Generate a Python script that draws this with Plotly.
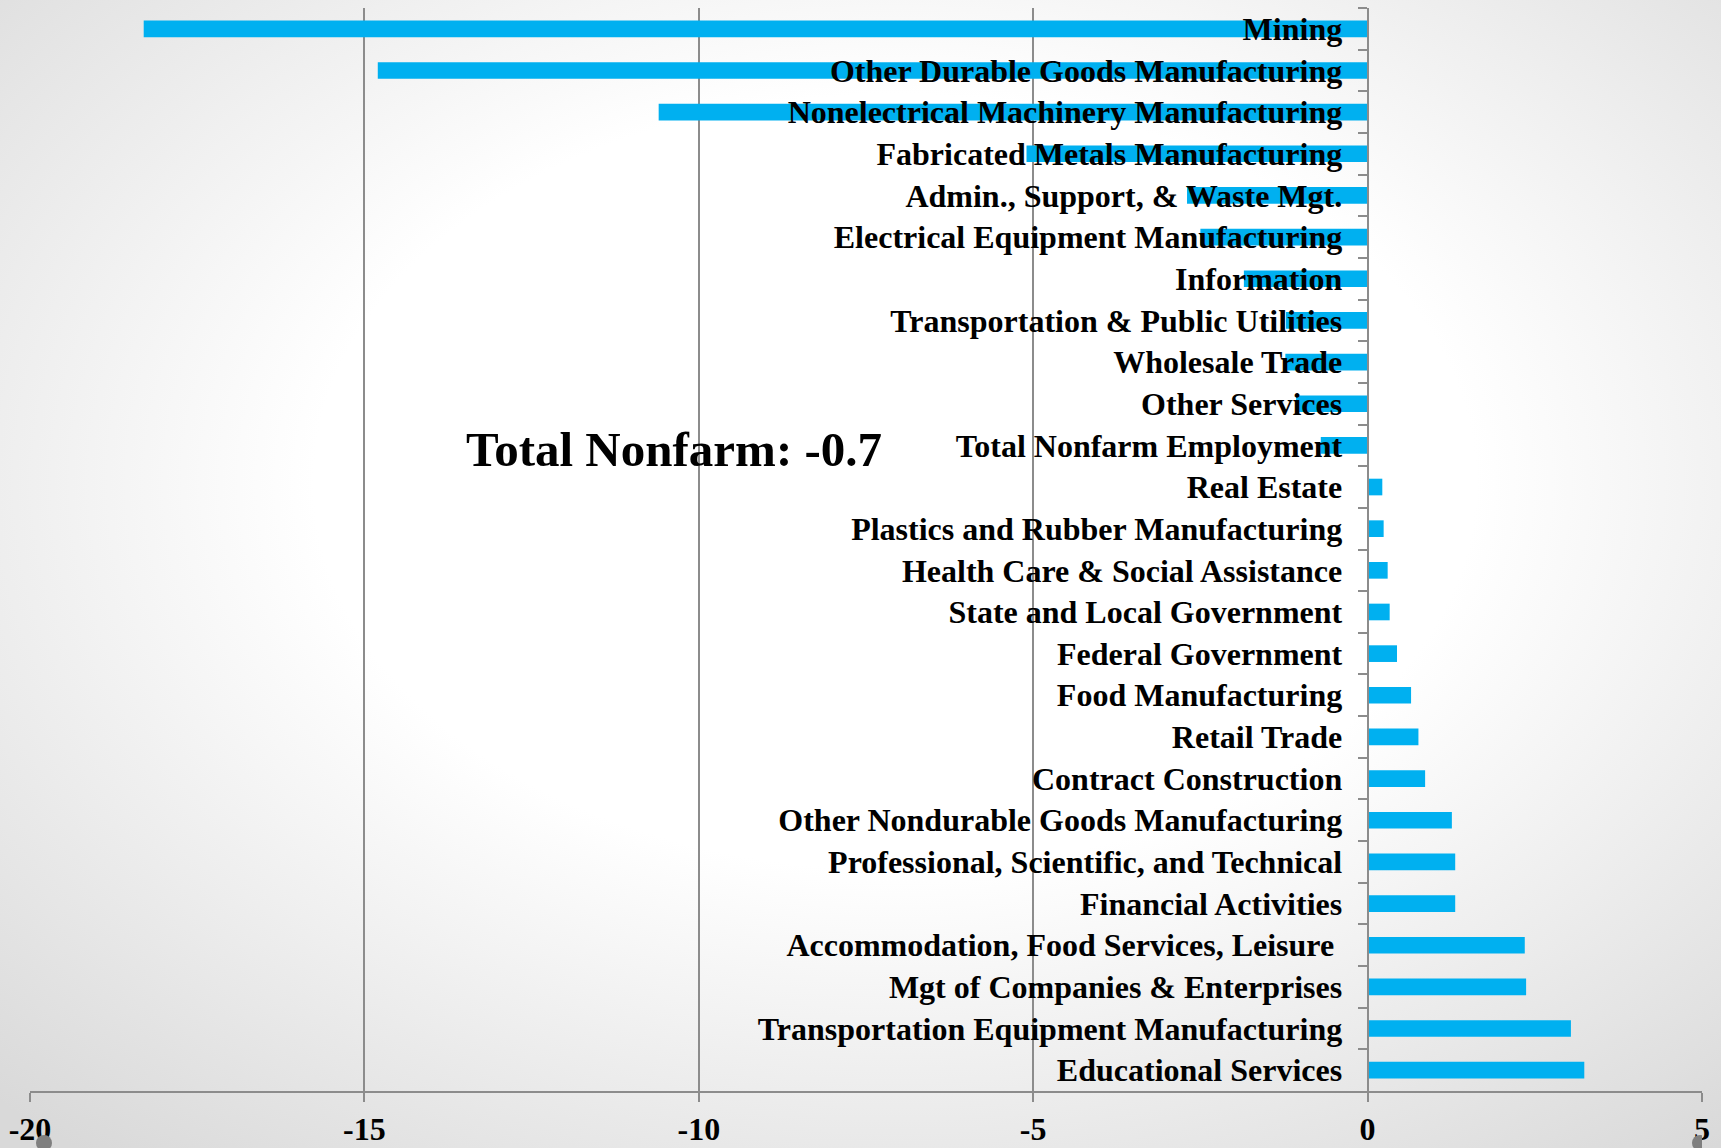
import base64
import plotly.graph_objects as go

# ---- data (top to bottom) ----
categories = [
    "Mining",
    "Other Durable Goods Manufacturing",
    "Nonelectrical Machinery Manufacturing",
    "Fabricated Metals Manufacturing",
    "Admin., Support, & Waste Mgt.",
    "Electrical Equipment Manufacturing",
    "Information",
    "Transportation & Public Utilities",
    "Wholesale Trade",
    "Other Services",
    "Total Nonfarm Employment",
    "Real Estate",
    "Plastics and Rubber Manufacturing",
    "Health Care & Social Assistance",
    "State and Local Government",
    "Federal Government",
    "Food Manufacturing",
    "Retail Trade",
    "Contract Construction",
    "Other Nondurable Goods Manufacturing",
    "Professional, Scientific, and Technical",
    "Financial Activities",
    "Accommodation, Food Services, Leisure\u00a0",
    "Mgt of Companies & Enterprises",
    "Transportation Equipment Manufacturing",
    "Educational Services",
]
values = [
    -18.3, -14.8, -10.6, -5.1, -2.7, -2.5, -1.85, -1.22, -1.23, -1.07,
    -0.7, 0.22, 0.24, 0.3, 0.33, 0.44, 0.65, 0.76, 0.86, 1.26,
    1.31, 1.31, 2.35, 2.37, 3.04, 3.24,
]
x_tick_values = [-20, -15, -10, -5, 0, 5]
x_tick_labels = ["-20", "-15", "-10", "-5", "0", "5"]
total_label = "Total Nonfarm: -0.7"

W, H = 1721, 1148
ML, MR, MT, MB = 30, 19, 8, 57
PW, PH = W - ML - MR, H - MT - MB

GRAY = "#8c8c8c"
SERIF = "Liberation Serif"

# radial gradient background as svg image
svg = f'''<svg xmlns="http://www.w3.org/2000/svg" width="{W}" height="{H}" viewBox="0 0 {W} {H}" preserveAspectRatio="none">
<defs><radialGradient id="g" cx="52%" cy="42%" r="75%">
<stop offset="0%" stop-color="#ffffff"/>
<stop offset="45%" stop-color="#ffffff"/>
<stop offset="100%" stop-color="#d9d9d9"/>
</radialGradient></defs>
<rect width="{W}" height="{H}" fill="url(#g)"/></svg>'''
bg_src = "data:image/svg+xml;base64," + base64.b64encode(svg.encode()).decode()

fig = go.Figure()
fig.add_trace(go.Bar(
    x=values,
    y=categories,
    orientation="h",
    width=0.4,
    marker=dict(color="#00B0F0", line=dict(width=0)),
    showlegend=False,
    hoverinfo="x+y",
))

zero_pos = (0 - x_tick_values[0]) / (x_tick_values[-1] - x_tick_values[0])

fig.update_layout(
    width=W, height=H,
    margin=dict(l=ML, r=MR, t=MT, b=MB, pad=0, autoexpand=False),
    paper_bgcolor="white",
    plot_bgcolor="rgba(0,0,0,0)",
    images=[dict(
        source=bg_src, xref="paper", yref="paper",
        x=-ML / PW, y=1 + MT / PH, sizex=W / PW, sizey=H / PH,
        xanchor="left", yanchor="top", sizing="stretch", layer="below",
    )],
    xaxis=dict(
        range=[x_tick_values[0], x_tick_values[-1]],
        tickvals=x_tick_values, ticktext=x_tick_labels,
        showgrid=True, gridcolor=GRAY, gridwidth=2,
        zeroline=False,
        showline=True, linecolor=GRAY, linewidth=2,
        ticks="outside", ticklen=9, tickwidth=2, tickcolor=GRAY,
        tickfont=dict(family=SERIF, size=32, color="black", weight="bold"),
        ticklabelstandoff=0,
        automargin=False,
        fixedrange=True,
    ),
    yaxis=dict(
        type="category",
        categoryorder="array", categoryarray=categories,
        autorange="reversed",
        anchor="free", position=zero_pos,
        showgrid=False, zeroline=False,
        showline=True, linecolor=GRAY, linewidth=2,
        ticks="outside", ticklen=9, tickwidth=2, tickcolor=GRAY,
        tickson="boundaries",
        tickfont=dict(family=SERIF, size=32, color="black", weight="bold"),
        ticklabelstandoff=18,
        automargin=False,
        layer="above traces",
        fixedrange=True,
    ),
    annotations=[dict(
        x=-10.37, y="Total Nonfarm Employment", xref="x", yref="y",
        text=total_label, showarrow=False, xanchor="center", yanchor="middle",
        yshift=-4,
        font=dict(family=SERIF, size=49, color="black", weight="bold"),
    )],
    shapes=[
        dict(type="circle", xref="x", yref="paper", xsizemode="pixel", ysizemode="pixel",
             xanchor=x_tick_values[0], yanchor=0, x0=6, x1=22, y0=-60, y1=-44,
             fillcolor="#7f7f7f", line=dict(width=0), layer="above"),
        dict(type="circle", xref="x", yref="paper", xsizemode="pixel", ysizemode="pixel",
             xanchor=x_tick_values[-1], yanchor=0, x0=-10, x1=6, y0=-60, y1=-44,
             fillcolor="#7f7f7f", line=dict(width=0), layer="above"),
    ],
)

fig.write_html(
    "out.html",
    config={"displayModeBar": False},
    post_script="document.body.style.margin='0';document.body.style.overflow='hidden';",
)
